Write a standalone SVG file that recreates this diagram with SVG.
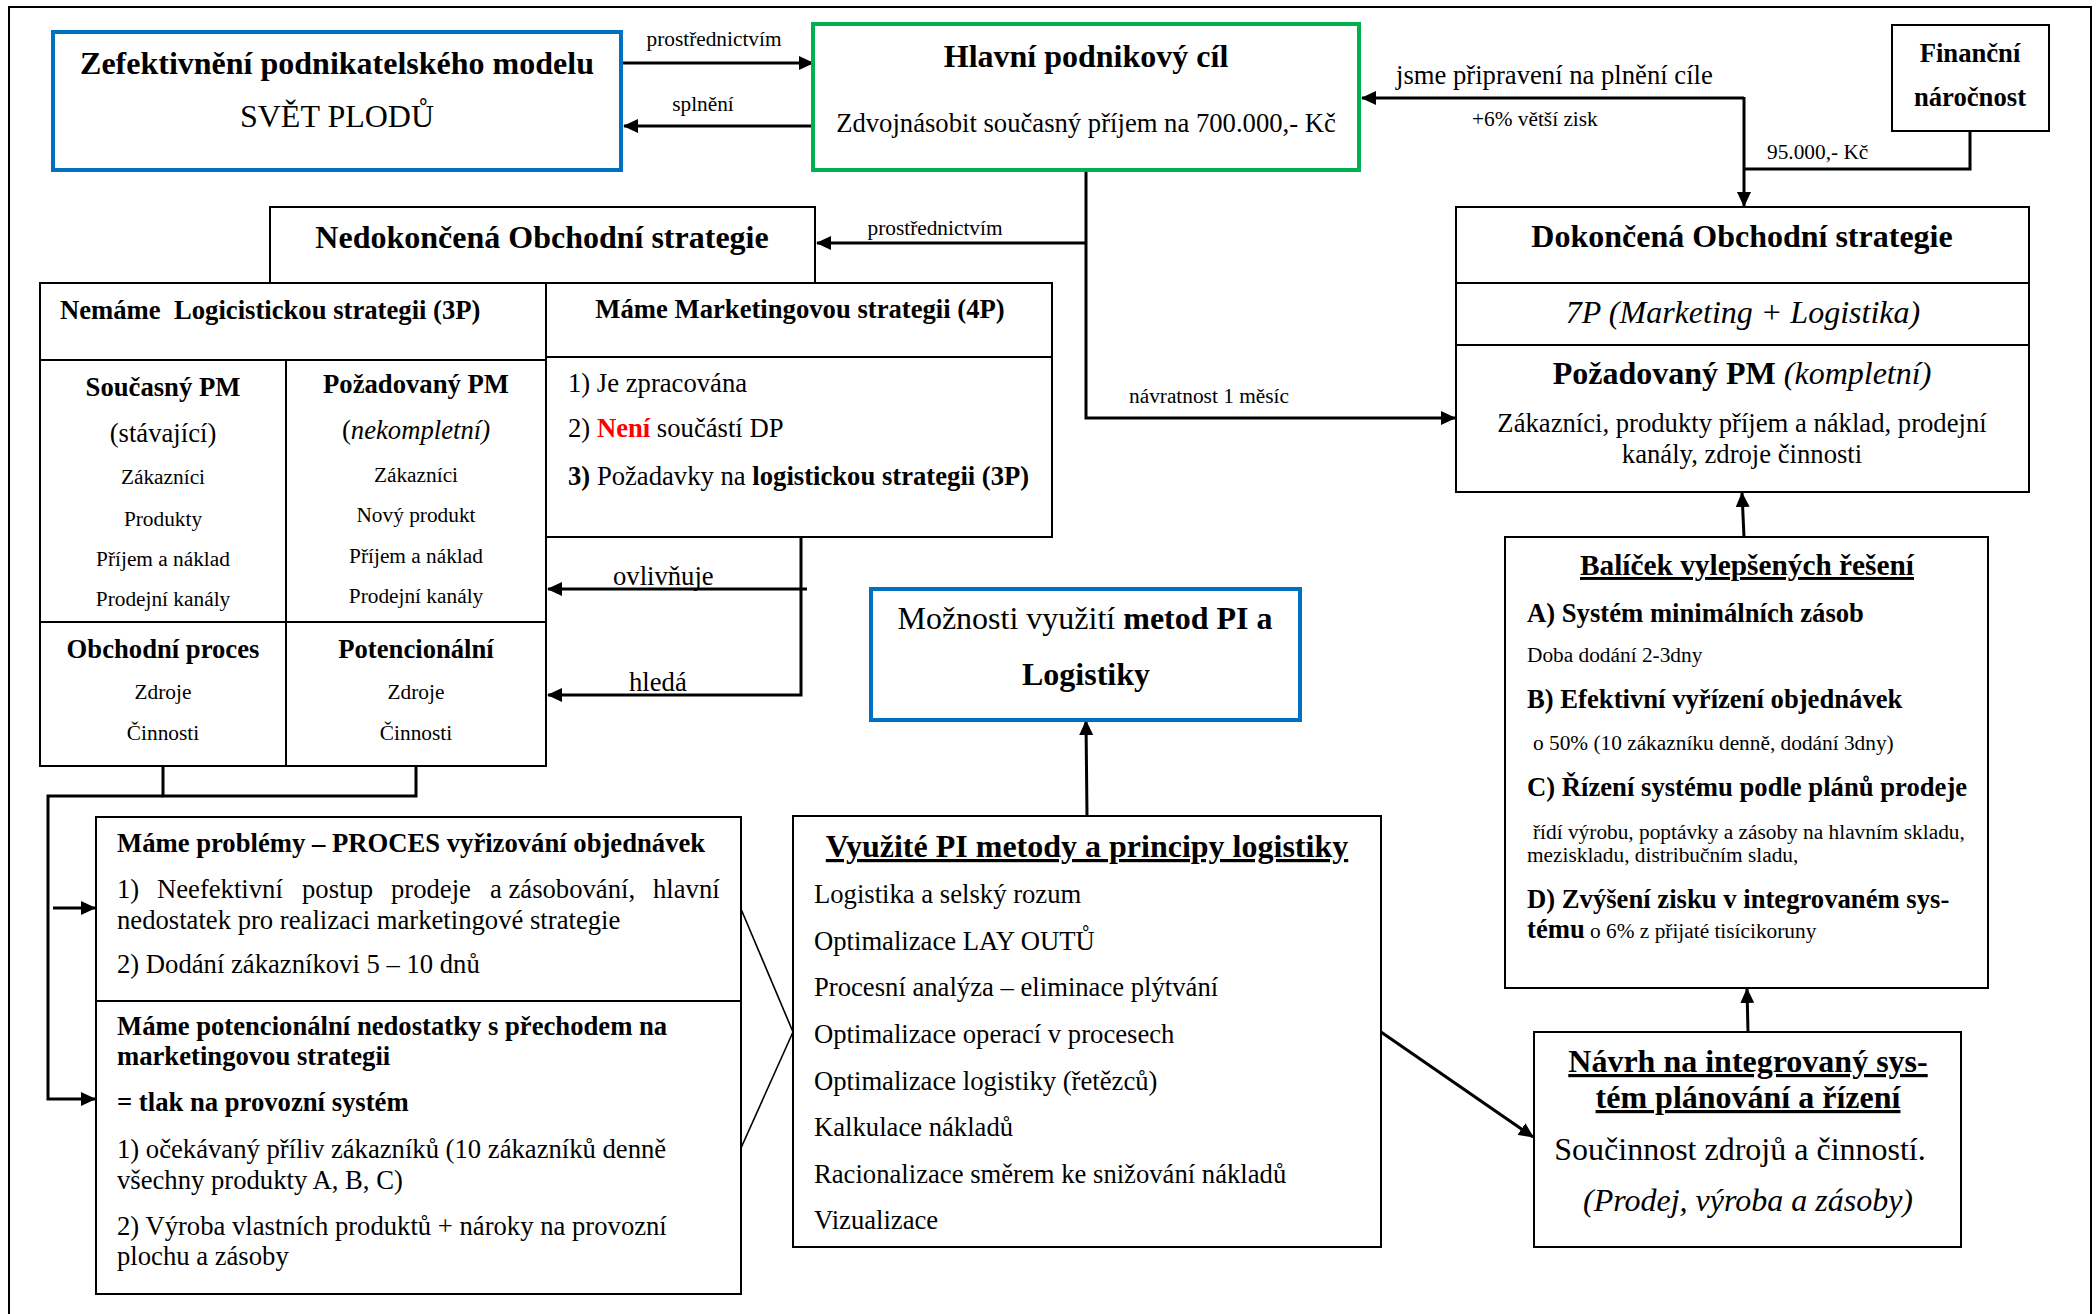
<svg xmlns="http://www.w3.org/2000/svg" width="2098" height="1314" viewBox="0 0 2098 1314">
  <defs>
    <style>
      .t { font-family: "Liberation Serif", "Times New Roman", serif; fill: #000; }
      .b { font-weight: bold; }
      .i { font-style: italic; }
      .c { text-anchor: middle; }
      .s16 { font-size: 21.33px; }
      .s20 { font-size: 26.67px; }
      .s22 { font-size: 29.33px; }
      .s24 { font-size: 32px; }
      .u { text-decoration: underline; }
      .box { fill: #fff; stroke: #000; stroke-width: 2; }
      .grid { fill: none; stroke: #000; stroke-width: 2; }
      .blue { fill: #fff; stroke: #0070C0; stroke-width: 4; }
      .green { fill: #fff; stroke: #00B050; stroke-width: 4; }
      .conn { fill: none; stroke: #000; stroke-width: 3; }
      .thin { fill: none; stroke: #000; stroke-width: 1.6; }
      .red { fill: #FF0000; }
    </style>
    <marker id="arrow" viewBox="0 0 15 14" markerWidth="15" markerHeight="14" refX="14" refY="7" orient="auto" markerUnits="userSpaceOnUse">
      <path d="M0,0 L15,7 L0,14 z" fill="#000"/>
    </marker>
  </defs>

  <rect width="2098" height="1314" fill="#fff"/>
  <!-- page frame -->
  <rect x="9" y="7" width="2082" height="1330" fill="none" stroke="#000" stroke-width="2"/>

  <!-- connectors -->
  <g id="connectors">
    <line class="conn" x1="622" y1="63" x2="813" y2="63" marker-end="url(#arrow)"/>
    <line class="conn" x1="813" y1="126" x2="624" y2="126" marker-end="url(#arrow)"/>
    <polyline class="conn" points="1744,98 1362,98" marker-end="url(#arrow)"/>
    <line class="conn" x1="1744" y1="97" x2="1744" y2="206" marker-end="url(#arrow)"/>
    <polyline class="conn" points="1970,131 1970,169 1744,169"/>
    <polyline class="conn" points="1086,171 1086,418 1455,418" marker-end="url(#arrow)"/>
    <line class="conn" x1="1086" y1="243" x2="817" y2="243" marker-end="url(#arrow)"/>
    <polyline class="conn" points="801,537 801,695 548,695" marker-end="url(#arrow)"/>
    <line class="conn" x1="807" y1="589" x2="548" y2="589" marker-end="url(#arrow)"/>
    <polyline class="conn" points="163,766 163,796 416,796 416,766"/>
    <polyline class="conn" points="163,796 48,796 48,1099 95,1099" marker-end="url(#arrow)"/>
    <line class="conn" x1="53" y1="908" x2="95" y2="908" marker-end="url(#arrow)"/>
    <line class="thin" x1="741" y1="909" x2="793" y2="1032"/>
    <line class="thin" x1="741" y1="1148" x2="793" y2="1032"/>
    <line class="conn" x1="1087" y1="816" x2="1086" y2="721" marker-end="url(#arrow)"/>
    <line class="conn" x1="1381" y1="1032" x2="1533" y2="1137" marker-end="url(#arrow)"/>
    <line class="conn" x1="1748" y1="1032" x2="1747" y2="989" marker-end="url(#arrow)"/>
    <line class="conn" x1="1744" y1="537" x2="1742" y2="493" marker-end="url(#arrow)"/>
    <text class="t s16 c" x="714" y="46">prostřednictvím</text>
    <text class="t s16 c" x="703" y="111">splnění</text>
    <text class="t s20" x="1396" y="84">jsme připravení na plnění cíle</text>
    <text class="t s16" x="1472" y="126">+6% větší zisk</text>
    <text class="t s16" x="1767" y="159">95.000,- Kč</text>
    <text class="t s16 c" x="935" y="235">prostřednictvím</text>
    <text class="t s16" x="1129" y="403">návratnost 1 měsíc</text>
    <text class="t s20" x="613" y="585">ovlivňuje</text>
    <text class="t s20" x="629" y="691">hledá</text>
  </g>

  <!-- business model -->
  <g id="model">
    <rect class="blue" x="53" y="32" width="568" height="138"/>
    <text class="t b s24 c" x="337" y="74">Zefektivnění podnikatelského modelu</text>
    <text class="t s24 c" x="337" y="127">SVĚT PLODŮ</text>
  </g>

  <!-- main goal -->
  <g id="goal">
    <rect class="green" x="813" y="24" width="546" height="146"/>
    <text class="t b s24 c" x="1086" y="67">Hlavní podnikový cíl</text>
    <text class="t s20 c" x="1086" y="132">Zdvojnásobit současný příjem na 700.000,- Kč</text>
  </g>

  <!-- financial demands -->
  <g id="finance">
    <rect class="box" x="1892" y="25" width="157" height="106"/>
    <text class="t b s20 c" x="1970" y="62">Finanční</text>
    <text class="t b s20 c" x="1970" y="106">náročnost</text>
  </g>

  <!-- unfinished business strategy -->
  <g id="unfinished">
    <rect class="box" x="270" y="207" width="545" height="76"/>
    <text class="t b s24 c" x="542" y="248">Nedokončená Obchodní strategie</text>
  </g>

  <!-- logistics strategy table -->
  <g id="logistics">
    <rect class="box" x="40" y="283" width="506" height="483"/>
    <line class="grid" x1="40" y1="360" x2="546" y2="360"/>
    <line class="grid" x1="286" y1="360" x2="286" y2="766"/>
    <line class="grid" x1="40" y1="622" x2="546" y2="622"/>
    <text class="t b s20" x="60" y="319" xml:space="preserve">Nemáme  Logicistickou strategii (3P)</text>
    <text class="t b s20 c" x="163" y="396">Současný PM</text>
    <text class="t s20 c" x="163" y="442">(stávající)</text>
    <text class="t s16 c" x="163" y="484">Zákazníci</text>
    <text class="t s16 c" x="163" y="526">Produkty</text>
    <text class="t s16 c" x="163" y="566">Příjem a náklad</text>
    <text class="t s16 c" x="163" y="606">Prodejní kanály</text>
    <text class="t b s20 c" x="416" y="393">Požadovaný PM</text>
    <text class="t s20 c" x="416" y="439">(<tspan class="i">nekompletní)</tspan></text>
    <text class="t s16 c" x="416" y="482">Zákazníci</text>
    <text class="t s16 c" x="416" y="522">Nový produkt</text>
    <text class="t s16 c" x="416" y="563">Příjem a náklad</text>
    <text class="t s16 c" x="416" y="603">Prodejní kanály</text>
    <text class="t b s20 c" x="163" y="658">Obchodní proces</text>
    <text class="t s16 c" x="163" y="699">Zdroje</text>
    <text class="t s16 c" x="163" y="740">Činnosti</text>
    <text class="t b s20 c" x="416" y="658">Potencionální</text>
    <text class="t s16 c" x="416" y="699">Zdroje</text>
    <text class="t s16 c" x="416" y="740">Činnosti</text>
  </g>

  <!-- marketing strategy -->
  <g id="marketing">
    <rect class="box" x="546" y="283" width="506" height="254"/>
    <line class="grid" x1="546" y1="357" x2="1052" y2="357"/>
    <text class="t b s20 c" x="800" y="318">Máme Marketingovou strategii (4P)</text>
    <text class="t s20" x="568" y="392">1) Je zpracována</text>
    <text class="t s20" x="568" y="437">2) <tspan class="b red">Není</tspan> součástí DP</text>
    <text class="t s20" x="568" y="485"><tspan class="b">3)</tspan> Požadavky na <tspan class="b">logistickou strategii (3P)</tspan></text>
  </g>

  <!-- finished business strategy -->
  <g id="finished">
    <rect class="box" x="1456" y="207" width="573" height="285"/>
    <line class="grid" x1="1456" y1="283" x2="2029" y2="283"/>
    <line class="grid" x1="1456" y1="345" x2="2029" y2="345"/>
    <text class="t b s24 c" x="1742" y="247">Dokončená Obchodní strategie</text>
    <text class="t i s24 c" x="1743" y="323">7P (Marketing + Logistika)</text>
    <text class="t s24 c" x="1742" y="384"><tspan class="b">Požadovaný PM </tspan><tspan class="i">(kompletní)</tspan></text>
    <text class="t s20 c" x="1742" y="432">Zákazníci, produkty příjem a náklad, prodejní</text>
    <text class="t s20 c" x="1742" y="463">kanály, zdroje činnosti</text>
  </g>

  <!-- PI and logistics options -->
  <g id="options">
    <rect class="blue" x="871" y="589" width="429" height="131"/>
    <text class="t s24 c" x="1085" y="629">Možnosti využití <tspan class="b">metod PI a</tspan></text>
    <text class="t b s24 c" x="1086" y="685">Logistiky</text>
  </g>

  <!-- improved solutions package -->
  <g id="package">
    <rect class="box" x="1505" y="537" width="483" height="451"/>
    <text class="t b s22 c u" x="1747" y="575">Balíček vylepšených řešení</text>
    <text class="t b s20" x="1527" y="622">A) Systém minimálních zásob</text>
    <text class="t s16" x="1527" y="662">Doba dodání 2-3dny</text>
    <text class="t b s20" x="1527" y="708">B) Efektivní vyřízení objednávek</text>
    <text class="t s16" x="1533" y="750">o 50% (10 zákazníku denně, dodání 3dny)</text>
    <text class="t b s20" x="1527" y="796">C) Řízení systému podle plánů prodeje</text>
    <text class="t s16" x="1533" y="839">řídí výrobu, poptávky a zásoby na hlavním skladu,</text>
    <text class="t s16" x="1527" y="862">meziskladu, distribučním sladu,</text>
    <text class="t b s20" x="1527" y="908">D) Zvýšení zisku v integrovaném sys-</text>
    <text class="t s20" x="1527" y="938"><tspan class="b">tému</tspan><tspan class="s16"> o 6% z přijaté tisícikoruny</tspan></text>
  </g>

  <!-- order process problems -->
  <g id="problems">
    <rect class="box" x="96" y="817" width="645" height="477"/>
    <line class="grid" x1="96" y1="1001" x2="741" y2="1001"/>
    <text class="t b s20" x="117" y="852">Máme problémy – PROCES vyřizování objednávek</text>
    <text class="t s20" y="898"><tspan x="117">1)</tspan><tspan x="157">Neefektivní</tspan><tspan x="302">postup</tspan><tspan x="391">prodeje</tspan><tspan x="490">a zásobování,</tspan><tspan x="653">hlavní</tspan></text>
    <text class="t s20" x="117" y="929">nedostatek pro realizaci marketingové strategie</text>
    <text class="t s20" x="117" y="973">2) Dodání zákazníkovi 5 – 10 dnů</text>
    <text class="t b s20" x="117" y="1035">Máme potencionální nedostatky s přechodem na</text>
    <text class="t b s20" x="117" y="1065">marketingovou strategii</text>
    <text class="t b s20" x="117" y="1111">= tlak na provozní systém</text>
    <text class="t s20" x="117" y="1158">1) očekávaný příliv zákazníků (10 zákazníků denně</text>
    <text class="t s20" x="117" y="1189">všechny produkty A, B, C)</text>
    <text class="t s20" x="117" y="1235">2) Výroba vlastních produktů + nároky na provozní</text>
    <text class="t s20" x="117" y="1265">plochu a zásoby</text>
  </g>

  <!-- PI methods used -->
  <g id="methods">
    <rect class="box" x="793" y="816" width="588" height="431"/>
    <text class="t b s24 c u" x="1087" y="857">Využité PI metody a principy logistiky</text>
    <text class="t s20" x="814" y="903">Logistika a selský rozum</text>
    <text class="t s20" x="814" y="950">Optimalizace LAY OUTŮ</text>
    <text class="t s20" x="814" y="996">Procesní analýza – eliminace plýtvání</text>
    <text class="t s20" x="814" y="1043">Optimalizace operací v procesech</text>
    <text class="t s20" x="814" y="1090">Optimalizace logistiky (řetězců)</text>
    <text class="t s20" x="814" y="1136">Kalkulace nákladů</text>
    <text class="t s20" x="814" y="1183">Racionalizace směrem ke snižování nákladů</text>
    <text class="t s20" x="814" y="1229">Vizualizace</text>
  </g>

  <!-- integrated planning system proposal -->
  <g id="proposal">
    <rect class="box" x="1534" y="1032" width="427" height="215"/>
    <text class="t b s24 c u" x="1748" y="1072">Návrh na integrovaný sys-</text>
    <text class="t b s24 c u" x="1748" y="1108">tém plánování a řízení</text>
    <text class="t s24 c" x="1740" y="1160">Součinnost zdrojů a činností.</text>
    <text class="t i s24 c" x="1748" y="1211">(Prodej, výroba a zásoby)</text>
  </g>
</svg>
